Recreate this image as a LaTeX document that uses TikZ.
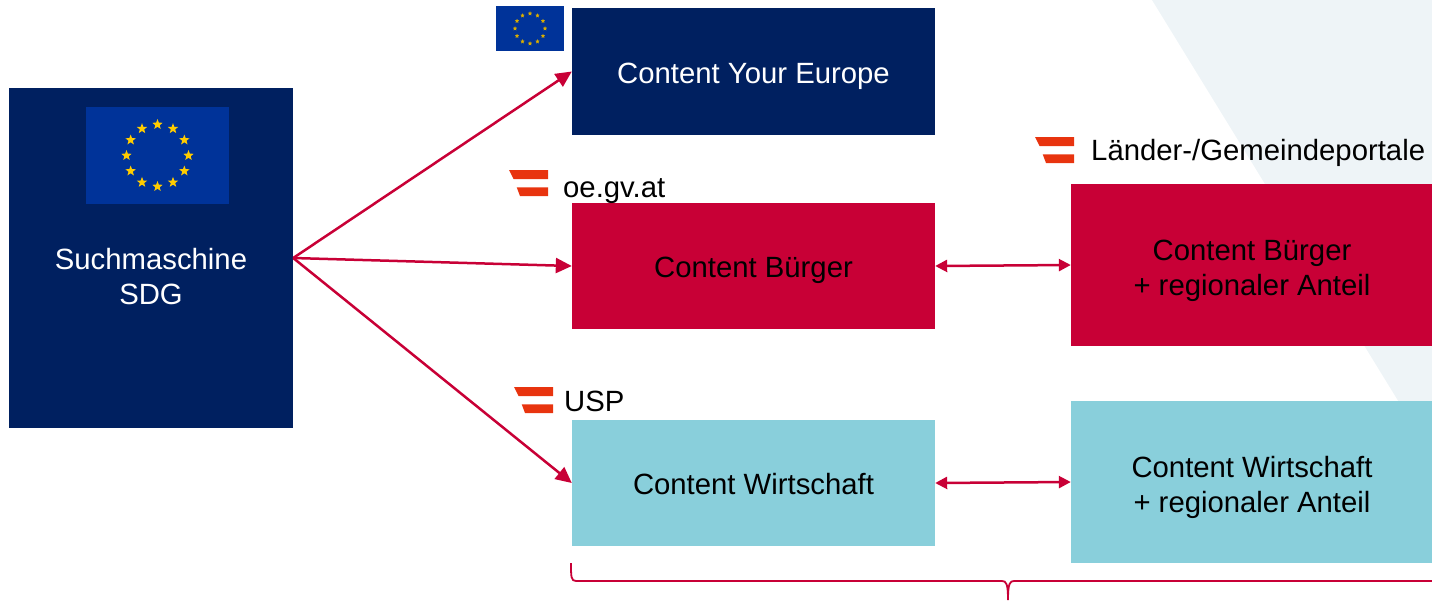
\documentclass[tikz,border=0pt]{standalone}
\usepackage{fontspec}
\setmainfont{Liberation Sans}
\usepackage{tikz}
\usetikzlibrary{arrows.meta,positioning,calc,shapes.geometric}
\definecolor{navyblue}{HTML}{002060}
\definecolor{flagblue}{HTML}{003399}
\definecolor{flagstar}{HTML}{FFCC00}
\definecolor{redbox}{HTML}{C80036}
\definecolor{tealbox}{HTML}{89CFDB}
\definecolor{bgshade}{HTML}{EEF4F7}
\definecolor{logored}{HTML}{E8340F}
\tikzset{
  basebox/.style={inner sep=0pt,align=center,font=\fontsize{29.3}{35.5}\selectfont},
  contentbox/.style={basebox,minimum width=363pt,minimum height=126pt,text height=23pt,text depth=0pt},
  regionbox/.style={basebox,minimum width=362pt,minimum height=162pt,text height=61pt,text depth=0pt},
  portallabel/.style={anchor=base west,inner sep=0pt,font=\fontsize{29.3}{35}\selectfont},
  linkarrow/.style={draw=redbox,line width=2.5pt,-{Triangle[length=16pt,width=15pt]}},
  linkboth/.style={draw=redbox,line width=2.5pt,{Triangle[length=12pt,width=12pt]}-{Triangle[length=12pt,width=12pt]}},
}
% austrian logo, #1 = top left corner
\newcommand{\atlogo}[1]{
\fill[logored] ($#1+(0,0)$) -- ++(39,0) -- ++(0,9) -- ++(-34.5,0) -- cycle;
\fill[logored] ($#1+(7.7,17.3)$) -- ++(31.3,0) -- ++(0,8.7) -- ++(-28,0) -- cycle;
}
\begin{document}
\begin{tikzpicture}[x=1pt,y=-1pt]
\useasboundingbox (0,0) rectangle (1432,600);
\fill[bgshade] (1152,0) -- (1432,0) -- (1432,456) -- cycle;
% search box with flag
\node[fill=navyblue,minimum width=284pt,minimum height=340pt,inner sep=0pt] (suche) at (151,258) {};
\node[fill=flagblue,minimum width=143pt,minimum height=97pt,inner sep=0pt] (flagbig) at (157.5,155.5) {};
\foreach \i in {1,...,12}
  \node[star,star points=5,star point ratio=2.4,fill=flagstar,minimum size=11pt,inner sep=0pt] (bigstar\i) at ($(flagbig)+({30*\i}:31)$) {};
\node[basebox,text=white] (suchetext) at (151,276.5) {Suchmaschine\\SDG};
% small flag
\node[fill=flagblue,minimum width=68pt,minimum height=45pt,inner sep=0pt] (flagsmall) at (530,28.5) {};
\foreach \i in {1,...,12}
  \node[star,star points=5,star point ratio=2,fill=flagstar!85!black,minimum size=4.5pt,inner sep=0pt] (smallstar\i) at ($(flagsmall)+({30*\i}:15)$) {};
% content boxes
\node[contentbox,fill=navyblue,text=white,minimum height=127pt] (europe) at (753.5,71.5) {Content Your Europe};
\node[contentbox,fill=redbox] (buerger) at (753.5,266) {Content Bürger};
\node[contentbox,fill=tealbox] (wirtschaft) at (753.5,483) {Content Wirtschaft};
\node[regionbox,fill=redbox] (buergerreg) at (1252,265) {Content Bürger\\+ regionaler Anteil};
\node[regionbox,fill=tealbox] (wirtschaftreg) at (1252,482) {Content Wirtschaft\\+ regionaler Anteil};
% logos and labels
\atlogo{(509,170)}
\node[portallabel] (oegv) at (563,197) {oe.gv.at};
\atlogo{(514,387)}
\node[portallabel] (usp) at (564,411) {USP};
\atlogo{(1035,137)}
\node[portallabel] (laender) at (1091,160) {Länder-/Gemeindeportale};
% arrows
\draw[linkarrow] (suche.east) -- (europe.west);
\draw[linkarrow] (suche.east) -- (buerger.west);
\draw[linkarrow] (suche.east) -- (wirtschaft.west);
\draw[linkboth] (buerger.east) -- (buergerreg.west);
\draw[linkboth] (wirtschaft.east) -- (wirtschaftreg.west);
% brace
\coordinate (braceleft) at (571,563);
\coordinate (bracetip) at (1008,600);
\coordinate (braceright) at (1432,581);
\draw[redbox,line width=1.8pt] (braceleft) .. controls (571,577) and (571,581) .. (576,581)
  -- (1002,581) .. controls (1006,581) and (1008,583) .. (bracetip)
  (bracetip) .. controls (1008,583) and (1010,581) .. (1014,581) -- (braceright);
\end{tikzpicture}
\end{document}
